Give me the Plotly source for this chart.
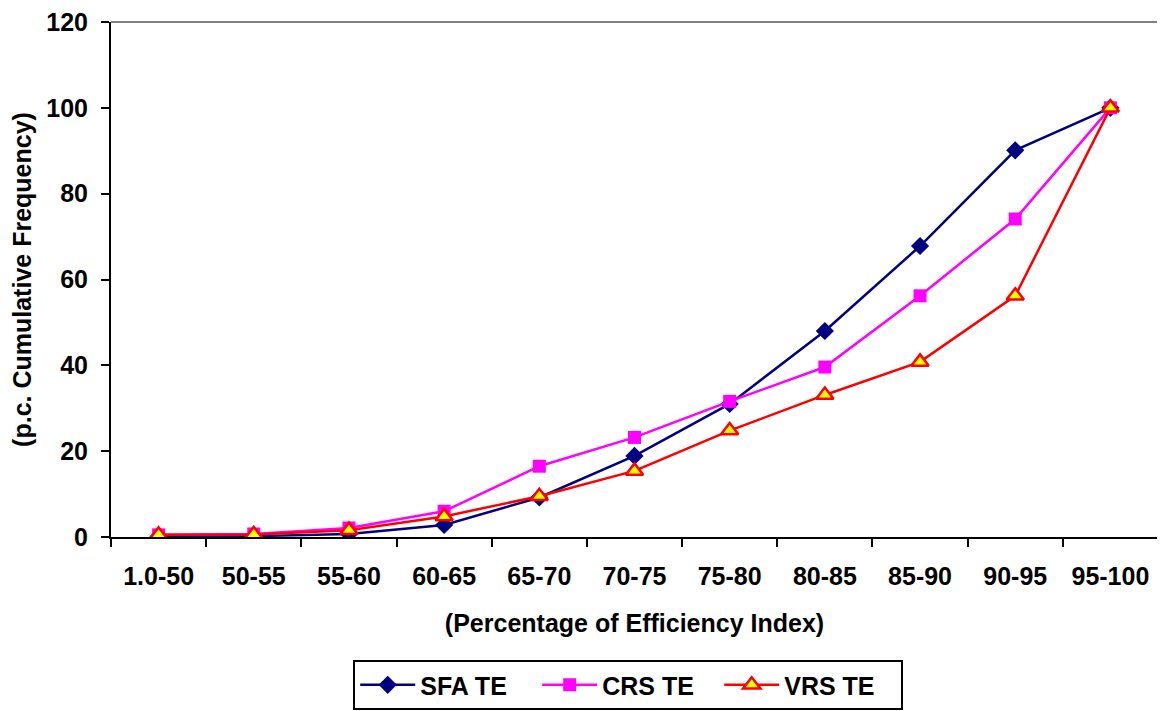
import plotly.graph_objects as go

categories = ["1.0-50", "50-55", "55-60", "60-65", "65-70", "70-75",
              "75-80", "80-85", "85-90", "90-95", "95-100"]
sfa_te = [0.1, 0.2, 0.7, 2.8, 9.2, 18.9, 31.0, 48.0, 67.8, 90.1, 100.0]
crs_te = [0.5, 0.7, 2.1, 6.0, 16.5, 23.2, 31.6, 39.6, 56.2, 74.1, 100.0]
vrs_te = [0.5, 0.6, 1.6, 4.8, 9.5, 15.4, 24.8, 33.1, 40.8, 56.2, 100.0]
y_ticks = [0, 20, 40, 60, 80, 100, 120]

font_family = "Liberation Sans, Arial, sans-serif"

fig = go.Figure()
fig.add_trace(go.Scatter(
    x=categories, y=sfa_te, name="<b>SFA TE</b>", mode="lines+markers",
    line=dict(color="#000080", width=2.5),
    marker=dict(symbol="diamond", size=14, color="#000080"),
))
fig.add_trace(go.Scatter(
    x=categories, y=crs_te, name="<b>CRS TE</b>", mode="lines+markers",
    line=dict(color="#FF00FF", width=2.5),
    marker=dict(symbol="square", size=13, color="#FF00FF"),
))
fig.add_trace(go.Scatter(
    x=categories, y=vrs_te, name="<b>VRS TE</b>", mode="lines+markers",
    line=dict(color="#FF0000", width=2.5),
    marker=dict(symbol="triangle-up", size=15, color="#FFFF00",
                line=dict(color="#FF0000", width=2.5)),
))

# The page body adds an 8px margin; the figure size and margins compensate.
fig.update_layout(
    width=1157, height=703,
    margin=dict(l=103, r=7, t=14, b=174, autoexpand=False),
    paper_bgcolor="white", plot_bgcolor="white",
    font=dict(family=font_family, size=25, color="black"),
    showlegend=True,
    legend=dict(
        orientation="h", x=0.494, xanchor="center", y=-0.239, yanchor="top",
        bordercolor="black", borderwidth=2, font=dict(size=25),
        itemwidth=55, entrywidth=112, entrywidthmode="pixels", tracegroupgap=0,
    ),
    shapes=[
        dict(type="line", xref="paper", yref="paper", x0=0, x1=1, y0=1, y1=1,
             line=dict(color="#808080", width=2), layer="above"),
        dict(type="line", xref="paper", yref="paper", x0=1, x1=1, y0=0, y1=1,
             line=dict(color="#808080", width=2), layer="above"),
    ],
)

fig.update_xaxes(
    type="category", tickson="boundaries", automargin=False,
    showline=True, linecolor="black", linewidth=2,
    ticks="outside", ticklen=8, tickwidth=2, tickcolor="black",
    showgrid=False, zeroline=False,
    tickvals=categories, ticktext=["<b>%s</b>" % c for c in categories],
    tickfont=dict(size=25, family=font_family),
    ticklabelstandoff=16, ticklabeloverflow="allow",
    title=dict(text="<b>(Percentage of Efficiency Index)</b>", font=dict(size=25), standoff=25),
    range=[-0.5, 10.5],
)
fig.update_yaxes(
    range=[0, 120], tickvals=y_ticks, automargin=False,
    ticktext=["<b>%d</b>" % v for v in y_ticks],
    showline=True, linecolor="black", linewidth=2,
    ticks="outside", ticklen=8, tickwidth=2, tickcolor="black",
    showgrid=False, zeroline=False,
    tickfont=dict(size=25, family=font_family),
    ticklabelstandoff=8, ticklabeloverflow="allow",
    title=dict(text="<b>(p.c. Cumulative Frequency)</b>", font=dict(size=25), standoff=12),
)

fig.write_html("out.html")
